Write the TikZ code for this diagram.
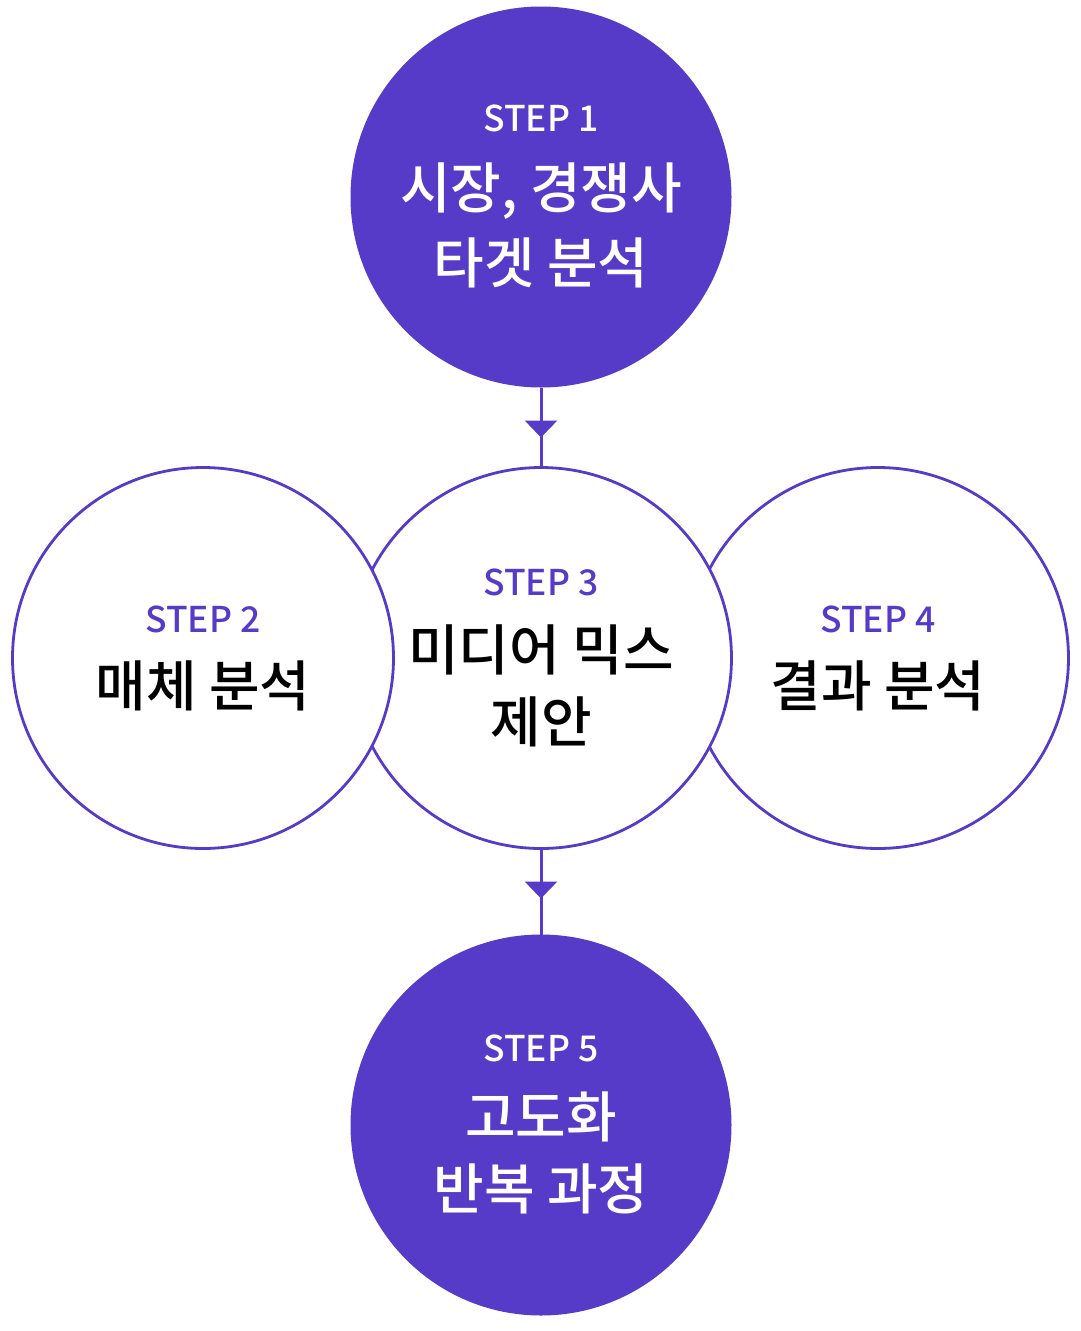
\documentclass[tikz,border=0pt]{standalone}
\usepackage{fontspec}
\setmainfont{Noto Sans CJK KR Medium}
\usetikzlibrary{arrows.meta,decorations.markings}
\definecolor{brand}{HTML}{553BC7}
\begin{document}
\begin{tikzpicture}[x=1pt,y=-1pt,
  bigcircle/.style={circle,minimum size=381pt,inner sep=0pt,outer sep=0pt},
  solidc/.style={bigcircle,fill=brand},
  openc/.style={bigcircle,fill=white,draw=brand,line width=2.8pt},
  steplabel/.style={font=\fontsize{35.5}{36}\selectfont,anchor=center},
  titletext/.style={font=\fontsize{55}{72}\selectfont,align=center,anchor=center},
  link/.style={draw=brand,line width=3pt,postaction={decorate},
    decoration={markings,mark=at position 50pt with {\arrow{Triangle[width=32pt,length=17pt]}}}}
]
\useasboundingbox (0,0) rectangle (1080,1331);
\fill[white] (0,0) rectangle (1080,1331);
% circles
\node[solidc] (c1) at (541,197) {};
\node[openc] (c4) at (878,658) {};
\node[openc] (c3) at (541,658) {};
\node[openc] (c2) at (203,658) {};
\node[solidc] (c5) at (541,1125) {};
% connectors
\draw[link] (c1.south) -- (c3.north);
\draw[link] (c3.south) -- (c5.north);
% texts
\node[steplabel,text=white] (t1) at (541,118) {STEP 1};
\node[titletext,text=white] (h1a) at (541,191) {시장, 경쟁사};
\node[titletext,text=white] (h1b) at (541,263) {타겟 분석};
\node[steplabel,text=brand] (t2) at (203,619) {STEP 2};
\node[titletext,text=black] (h2) at (203,686) {매체 분석};
\node[steplabel,text=brand] (t3) at (541,582) {STEP 3};
\node[titletext,text=black] (h3a) at (541,650) {미디어 믹스};
\node[titletext,text=black] (h3b) at (541,722) {제안};
\node[steplabel,text=brand] (t4) at (878,619) {STEP 4};
\node[titletext,text=black] (h4) at (878,686) {결과 분석};
\node[steplabel,text=white] (t5) at (541,1048) {STEP 5};
\node[titletext,text=white] (h5a) at (541,1117) {고도화};
\node[titletext,text=white] (h5b) at (541,1189) {반복 과정};
\end{tikzpicture}
\end{document}
